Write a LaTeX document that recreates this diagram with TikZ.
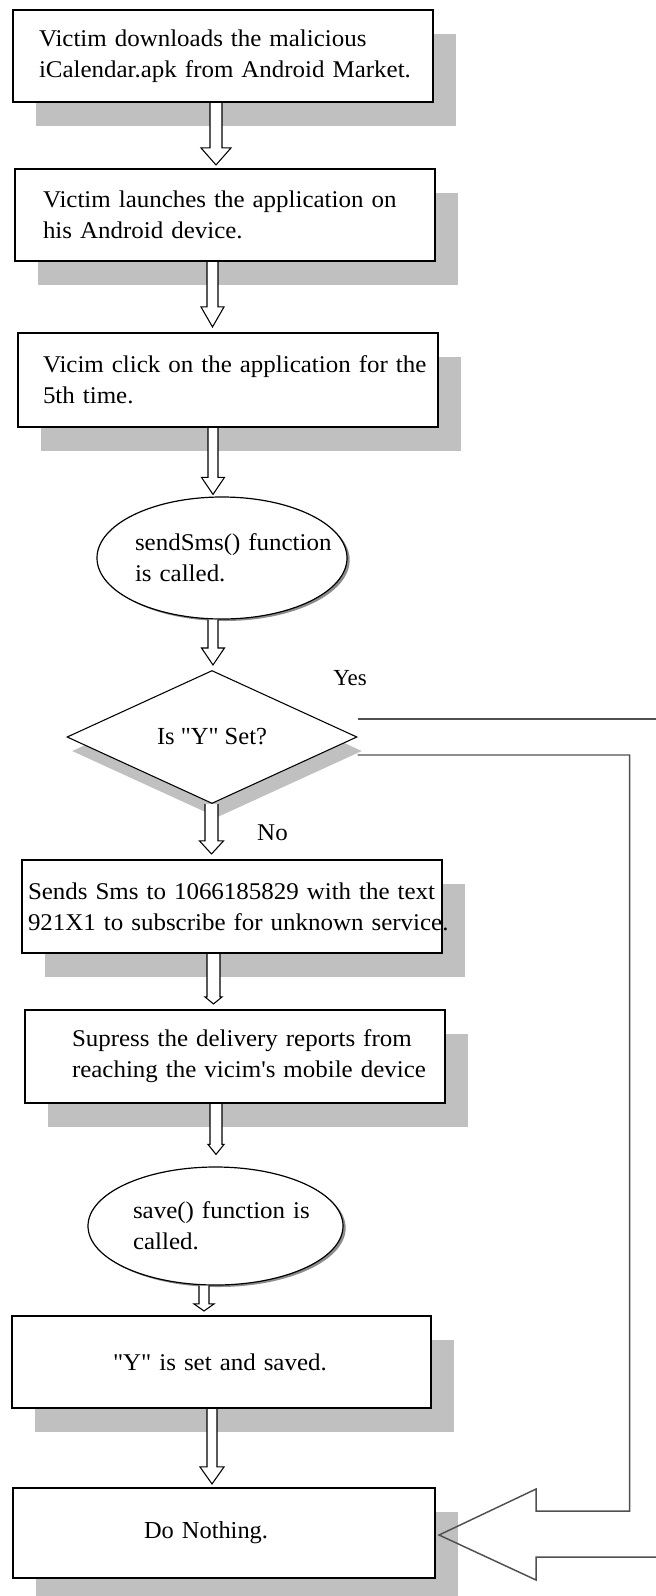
\documentclass[tikz,border=0pt]{standalone}
\usepackage{fontspec}
\setmainfont[FakeStretch=1.04, Ligatures=TeXOff]{Liberation Serif}
\newfontfamily\tms[Ligatures=TeXOff]{Liberation Serif}
\usetikzlibrary{shapes.geometric,calc,shadows}
\definecolor{shadowgray}{RGB}{192,192,192}
\definecolor{linegray}{RGB}{80,80,80}
\newcommand\oneline[1]{\mbox{#1}}
% #1 from anchor, #2 to anchor, #3 x, #4 shaft half width, #5 head half width, #6 head length, #7 gap
\newcommand\blkarrow[7]{%
  \coordinate (bx) at (#3,0);
  \coordinate (bs) at (#1 -| bx);
  \coordinate (bt) at ($(#2 -| bx)+(0,-#7)$);
  \draw[blockarr] ($(bs)+(-#4,0)$) -- ($(bt)+(-#4,-#6)$) -- ($(bt)+(-#5,-#6)$) -- (bt)
     -- ($(bt)+(#5,-#6)$) -- ($(bt)+(#4,-#6)$) -- ($(bs)+(#4,0)$);
}
\begin{document}
\begin{tikzpicture}[x=0.75pt,y=-0.75pt,
  boxfont/.style={font=\fontsize{18}{23.25}\selectfont},
  box/.style={boxfont, draw=black, line width=1.6pt, fill=white, rectangle, align=left,
    inner ysep=0pt, minimum width=315pt,
    drop shadow={shadow xshift=17.25pt, shadow yshift=-18pt, fill=shadowgray, opacity=1, draw=none}},
  oval/.style={boxfont, ellipse, draw=black, line width=0.9pt, fill=white, align=left, inner sep=0pt,
    drop shadow={shadow xshift=2pt, shadow yshift=-1.5pt, fill=black!45, opacity=1, draw=none}},
  decision/.style={diamond, draw=black, line width=0.8pt, fill=white, inner sep=0pt, aspect=2.18,
    minimum width=217.5pt, minimum height=99.75pt, font=\tms\fontsize{18.4}{22}\selectfont,
    drop shadow={shadow xshift=3.75pt, shadow yshift=-10.5pt, fill=shadowgray, opacity=1, draw=none}},
  blockarr/.style={draw=black, line width=0.8pt, fill=white, line join=miter},
  yesline/.style={draw=linegray, line width=1.1pt},
  lbl/.style={inner sep=0pt}
]
\useasboundingbox (0,0) rectangle (656,1596);
\fill[white] (0,0) rectangle (656,1596);

\node[box, minimum height=69pt, inner xsep=19.5pt, text width=276pt] (b1) at (223,56)
  {\oneline{Victim downloads the malicious}\\\oneline{iCalendar.apk from Android Market.}};
\node[box, minimum height=69pt, inner xsep=21pt, text width=273pt] (b2) at (225,215)
  {\oneline{Victim launches the application on}\\\oneline{his Android device.}};
\node[box, minimum height=70.5pt, inner xsep=18.75pt, text width=277.5pt] (b3) at (228,380)
  {\oneline{Vicim click on the application for the}\\\oneline{5th time.}};

\node[oval, minimum width=187.5pt, minimum height=91.5pt, text width=130.5pt] (e1) at (222,558)
  {\oneline{sendSms() function}\\\oneline{is called.}};

\node[decision] (d) at (212,737) {Is "Y" Set?};
\node[lbl, font=\tms\fontsize{17.25}{20}\selectfont] (yes) at (350,678) {Yes};
\node[lbl, boxfont] (no) at (272.5,833) {No};

\node[box, minimum height=69.75pt, inner xsep=4.5pt, text width=306pt] (s) at (232,906.5)
  {\oneline{Sends Sms to 1066185829 with the text}\\\oneline{921X1 to subscribe for unknown service.}};
\node[box, minimum height=69.75pt, inner xsep=35.25pt, text width=244.5pt] (p) at (235,1056.5)
  {\oneline{Supress the delivery reports from}\\\oneline{reaching the vicim's mobile device}};

\node[oval, minimum width=191.25pt, minimum height=88.5pt, text width=123.75pt] (e2) at (215.5,1226)
  {\oneline{save() function is}\\\oneline{called.}};

\node[box, minimum width=314.25pt, minimum height=69pt, inner xsep=75.75pt, text width=162.75pt] (y) at (221.5,1362)
  {\oneline{"Y" is set and saved.}};
\node[box, minimum width=316.5pt, minimum height=67.5pt, inner xsep=98.25pt, text width=120pt,
  font=\tms\fontsize{18.3}{22}\selectfont,
  drop shadow={shadow xshift=17.25pt, shadow yshift=-52.5pt, fill=shadowgray, opacity=1, draw=none}] (dn) at (224,1533)
  {\oneline{Do Nothing.}};

\blkarrow{b1.south}{b2.north}{216}{6}{15}{17}{3}
\blkarrow{b2.south}{b3.north}{212.5}{5.5}{11.5}{20}{5}
\blkarrow{b3.south}{e1.north}{213}{5}{11.5}{17}{2}
\blkarrow{e1.south}{d.north}{213}{5}{11.5}{17}{5}
\blkarrow{d.south}{s.north}{211.5}{6.5}{12}{13}{5}
\blkarrow{s.south}{p.north}{213.5}{6.5}{8.5}{7}{5}
\blkarrow{p.south}{e2.north}{216}{6}{8}{10}{12}
\blkarrow{e2.south}{y.north}{204}{5}{10}{7}{4}
\blkarrow{y.south}{dn.north}{212}{5}{12}{17}{3}

% Yes branch: wide block arrow to "Do Nothing."
\coordinate (tip) at ($(dn.east)+(3,2)$);
\draw[yesline] ($(d.east)+(0,-18)$) -- ++(299,0);
\draw[yesline, line join=miter] ($(d.east)+(0,18)$) -- ++(272,0) |- ($(tip)+(97,-24)$) -- ++(0,-22) -- (tip)
  -- ($(tip)+(97,45)$) -- ++(0,-23) -- ++(121,0);
\end{tikzpicture}
\end{document}
